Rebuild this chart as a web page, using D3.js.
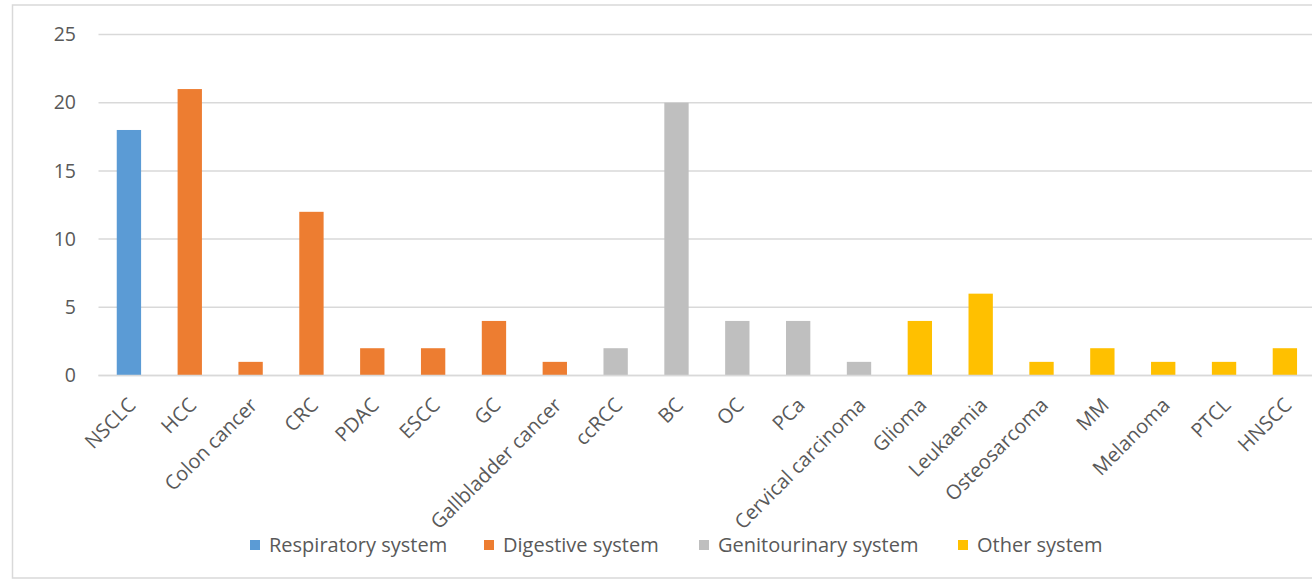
<!DOCTYPE html>
<html>
<head>
<meta charset="utf-8">
<script src="https://cdn.jsdelivr.net/npm/d3@7"></script>
<style>
  html, body { margin: 0; padding: 0; background: #fff; overflow: hidden; }
  svg text { font-family: "Open Sans", "Noto Sans", sans-serif; fill: #595959; }
</style>
</head>
<body>
<svg id="chart" width="1312" height="579"></svg>
<script>
// Tumour types and number of studies, grouped by organ system
const categories = ["NSCLC", "HCC", "Colon cancer", "CRC", "PDAC", "ESCC", "GC",
  "Gallbladder cancer", "ccRCC", "BC", "OC", "PCa", "Cervical carcinoma",
  "Glioma", "Leukaemia", "Osteosarcoma", "MM", "Melanoma", "PTCL", "HNSCC"];
const values = [18, 21, 1, 12, 2, 2, 4, 1, 2, 20, 4, 4, 1, 4, 6, 1, 2, 1, 1, 2];
const systems = ["Respiratory system", "Digestive system",
  "Digestive system", "Digestive system", "Digestive system", "Digestive system",
  "Digestive system", "Digestive system", "Genitourinary system", "Genitourinary system",
  "Genitourinary system", "Genitourinary system", "Genitourinary system",
  "Other system", "Other system", "Other system", "Other system", "Other system",
  "Other system", "Other system"];
const legendNames = ["Respiratory system", "Digestive system", "Genitourinary system", "Other system"];
const legendColors = ["#5b9bd5", "#ed7d31", "#bfbfbf", "#ffc000"];
const yTicks = [0, 5, 10, 15, 20, 25];

const svg = d3.select("#chart");

// Chart area outline
svg.append("rect")
  .attr("x", 12.5).attr("y", 5).attr("width", 1400).attr("height", 573)
  .attr("fill", "none").attr("stroke", "#d9d9d9").attr("stroke-width", 1.5);

const x = d3.scaleBand().domain(categories).range([98.5, 1315.3]).paddingInner(0.6).paddingOuter(0.3);
const y = d3.scaleLinear().domain([0, 25]).range([375.5, 34.5]);
const color = d3.scaleOrdinal().domain(legendNames).range(legendColors);

// Horizontal gridlines
svg.append("g").selectAll("line").data(yTicks).join("line")
  .attr("x1", 98.5).attr("x2", 1315)
  .attr("y1", d => y(d)).attr("y2", d => y(d))
  .attr("stroke", "#d9d9d9").attr("stroke-width", 1.5);

// Y axis labels
const yAxis = svg.append("g").attr("transform", "translate(76,0)")
  .call(d3.axisLeft(y).tickValues(yTicks).tickSize(0).tickPadding(0));
yAxis.select(".domain").remove();
yAxis.attr("font-size", 19.5).attr("font-family", null);
yAxis.selectAll("text").attr("fill", "#595959");

// Bars
svg.append("g").selectAll("rect").data(categories).join("rect")
  .attr("x", d => x(d))
  .attr("width", x.bandwidth())
  .attr("y", (d, i) => y(values[i]))
  .attr("height", (d, i) => y(0) - y(values[i]))
  .attr("fill", (d, i) => color(systems[i]));

// Category axis line
svg.append("line").attr("x1", 98.5).attr("x2", 1315)
  .attr("y1", y(0)).attr("y2", y(0))
  .attr("stroke", "#d9d9d9").attr("stroke-width", 1.5);

// Rotated category labels
const xAxis = svg.append("g").attr("transform", `translate(0,${y(0)})`)
  .call(d3.axisBottom(x).tickSize(0).tickPadding(0));
xAxis.select(".domain").remove();
xAxis.attr("font-size", 20).attr("font-family", null);
xAxis.selectAll("text")
  .attr("fill", "#595959")
  .attr("text-anchor", "end")
  .attr("dy", "0.35em")
  .attr("transform", "translate(3,26) rotate(-45)");

// Legend
const legendX = [250, 484, 699, 958];
const legend = svg.append("g").selectAll("g").data(legendNames).join("g")
  .attr("transform", (d, i) => `translate(${legendX[i]},545)`);
legend.append("rect").attr("x", 0).attr("y", -5).attr("width", 10).attr("height", 10)
  .attr("fill", d => color(d));
legend.append("text").attr("x", 19).attr("y", 0).attr("dy", "0.35em")
  .attr("font-size", 20).text(d => d);
</script>
</body>
</html>
